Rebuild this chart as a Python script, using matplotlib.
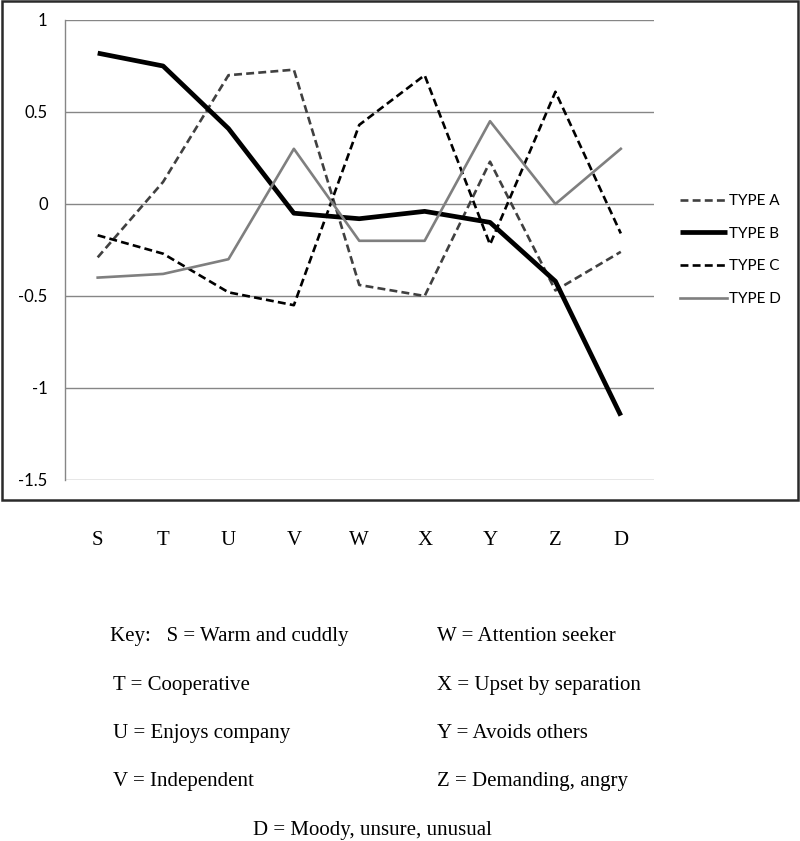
import numpy as np
import matplotlib.pyplot as plt
from matplotlib.patches import Rectangle

categories = ['S', 'T', 'U', 'V', 'W', 'X', 'Y', 'Z', 'D']
type_a = [-0.29, 0.12, 0.70, 0.73, -0.44, -0.50, 0.23, -0.47, -0.26]
type_b = [0.82, 0.75, 0.41, -0.05, -0.08, -0.04, -0.10, -0.42, -1.15]
type_c = [-0.17, -0.27, -0.48, -0.55, 0.43, 0.70, -0.22, 0.61, -0.16]
type_d = [-0.40, -0.38, -0.30, 0.30, -0.20, -0.20, 0.45, 0.00, 0.30]
y_ticks = [-1.5, -1, -0.5, 0, 0.5, 1]
y_tick_labels = ['-1.5', '-1', '-0.5', '0', '0.5', '1']

key_left = ['Key:   S = Warm and cuddly', 'T = Cooperative', 'U = Enjoys company', 'V = Independent']
key_right = ['W = Attention seeker', 'X = Upset by separation', 'Y = Avoids others', 'Z = Demanding, angry']
key_last = 'D = Moody, unsure, unusual'

W, H = 800, 841
fig = plt.figure(figsize=(W / 100, H / 100), dpi=100)

def fx(px):
    return px / W

def fy(py):
    return 1 - py / H

# outer chart border
fig.patches.append(Rectangle((fx(2), fy(500)), fx(796), 499 / H, transform=fig.transFigure,
                             fill=False, edgecolor='#2a2a2a', linewidth=1.8))

ax = fig.add_axes([fx(65), fy(480), fx(588.5), 460 / H])
x = np.arange(len(categories))
ax.plot(x, type_a, color='#404040', lw=1.9, dashes=(3, 1.6), label='TYPE A')
ax.plot(x, type_b, color='black', lw=3.4, label='TYPE B', solid_capstyle='butt')
ax.plot(x, type_c, color='black', lw=1.9, dashes=(3, 1.6), label='TYPE C')
ax.plot(x, type_d, color='#7f7f7f', lw=1.9, label='TYPE D')

ax.set_xlim(-0.5, len(categories) - 0.5)
ax.set_ylim(-1.5, 1)
ax.set_yticks(y_ticks)
ax.set_yticklabels(y_tick_labels, fontsize=12, family='Lato')
ax.set_xticks(x)
ax.set_xticklabels(categories, fontsize=15, family='Liberation Serif')
ax.tick_params(axis='y', length=0, pad=12.5)
ax.tick_params(axis='x', length=0, pad=36.5)
ax.grid(axis='y', color='#868686', lw=1)
ax.set_axisbelow(True)
for s in ['top', 'right', 'bottom']:
    ax.spines[s].set_visible(False)
ax.spines['left'].set_color('#868686')
ax.spines['left'].set_linewidth(1)

ax.legend(loc='center left', bbox_to_anchor=(fx(666), fy(250)), bbox_transform=fig.transFigure,
          frameon=False, prop={'family': 'Lato', 'size': 11}, handlelength=3.1,
          handletextpad=0.1, labelspacing=1.22)

for i, (l, r) in enumerate(zip(key_left, key_right)):
    yb = [641, 690, 738, 786][i]
    fig.text(fx(110 if i == 0 else 113), fy(yb), l, family='Liberation Serif', fontsize=15, va='baseline')
    fig.text(fx(437), fy(yb), r, family='Liberation Serif', fontsize=15, va='baseline')
fig.text(fx(253), fy(835), key_last, family='Liberation Serif', fontsize=15, va='baseline')

plt.savefig('out.png', dpi=100, facecolor='white')
